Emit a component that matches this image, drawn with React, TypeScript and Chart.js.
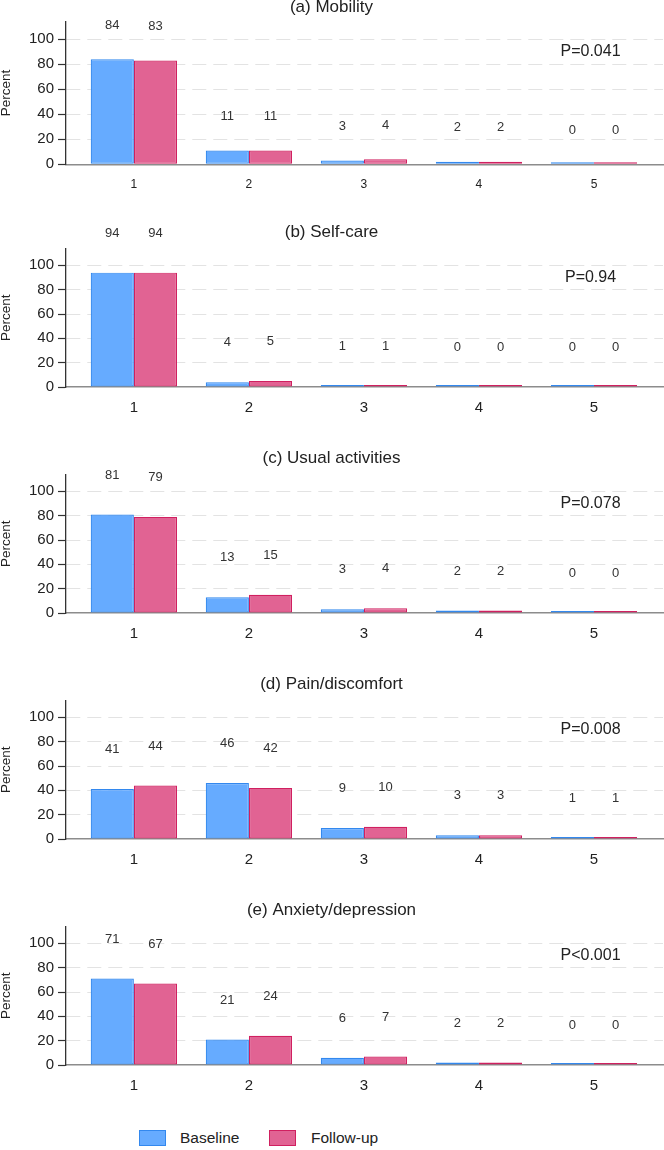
import React, { useEffect, useRef } from 'react';
import { Chart, registerables } from 'chart.js';

Chart.register(...registerables);

// ---------- data ----------
const categories = ['1', '2', '3', '4', '5'];
const seriesNames = ['Baseline', 'Follow-up'];
const panelTitles = [
  '(a) Mobility',
  '(b) Self-care',
  '(c) Usual activities',
  '(d) Pain/discomfort',
  '(e) Anxiety/depression',
];
const pLabels = ['P=0.041', 'P=0.94', 'P=0.078', 'P=0.008', 'P<0.001'];

const baselineMobility = [84, 11, 3, 2, 0];
const followupMobility = [83, 11, 4, 2, 0];
const baselineSelfCare = [94, 4, 1, 0, 0];
const followupSelfCare = [94, 5, 1, 0, 0];
const baselineUsual = [81, 13, 3, 2, 0];
const followupUsual = [79, 15, 4, 2, 0];
const baselinePain = [41, 46, 9, 3, 1];
const followupPain = [44, 42, 10, 3, 1];
const baselineAnxiety = [71, 21, 6, 2, 0];
const followupAnxiety = [67, 24, 7, 2, 0];

const baselineSeries = [baselineMobility, baselineSelfCare, baselineUsual, baselinePain, baselineAnxiety];
const followupSeries = [followupMobility, followupSelfCare, followupUsual, followupPain, followupAnxiety];

const yTicks = [0, 20, 40, 60, 80, 100];
const yTitle = 'Percent';

// ---------- styles ----------
const FONT = "'Liberation Sans', Arial, Helvetica, sans-serif";
const BLUE_FILL = 'rgb(102,171,255)';
const BLUE_LINE = 'rgb(51,136,238)';
const PINK_FILL = 'rgb(225,99,147)';
const PINK_LINE = 'rgb(208,32,96)';
const TEXT = '#222';

type PanelLayout = {
  height: number;
  titlePadTop: number;
  titlePadBottom: number;
  xAxisHeight: number;
  xTickSize: number;
  xTickPad: number;
  labelOffset: number;
};

const layouts: PanelLayout[] = [
  { height: 207, titlePadTop: -3.2, titlePadBottom: 4.5, xAxisHeight: 42.7, xTickSize: 12, xTickPad: 5.5, labelOffset: 34 },
  { height: 226, titlePadTop: 14.8, titlePadBottom: 6.1, xAxisHeight: 46, xTickSize: 15, xTickPad: 4, labelOffset: 39.5 },
  { height: 226, titlePadTop: 14.8, titlePadBottom: 6.1, xAxisHeight: 46, xTickSize: 15, xTickPad: 4, labelOffset: 39.5 },
  { height: 226, titlePadTop: 14.8, titlePadBottom: 6.1, xAxisHeight: 46, xTickSize: 15, xTickPad: 4, labelOffset: 39.5 },
  { height: 226, titlePadTop: 14.8, titlePadBottom: 6.1, xAxisHeight: 46, xTickSize: 15, xTickPad: 4, labelOffset: 39.5 },
];

const barLabelPlugin = {
  id: 'barLabels',
  afterDatasetsDraw(chart: any, _args: any, opts: any) {
    const ctx = chart.ctx;
    const yScale = chart.scales.y;
    ctx.save();
    ctx.font = `13px ${FONT}`;
    ctx.fillStyle = '#333';
    ctx.textAlign = 'center';
    ctx.textBaseline = 'middle';
    chart.data.datasets.forEach((ds: any, di: number) => {
      const meta = chart.getDatasetMeta(di);
      meta.data.forEach((el: any, i: number) => {
        const v = ds.data[i].y;
        const top = yScale.getPixelForValue(v);
        ctx.fillText(String(v), el.x, top - opts.offset);
      });
    });
    ctx.restore();
  },
};

const pTextPlugin = {
  id: 'pText',
  afterDatasetsDraw(chart: any, _args: any, opts: any) {
    const ctx = chart.ctx;
    const x = chart.scales.x.getPixelForValue(opts.x);
    const y = chart.scales.y.getPixelForValue(opts.y);
    ctx.save();
    ctx.font = `16px ${FONT}`;
    ctx.fillStyle = TEXT;
    ctx.textAlign = 'center';
    ctx.textBaseline = 'middle';
    ctx.fillText(opts.text, x, y);
    ctx.restore();
  },
};

function Panel({ index }: { index: number }) {
  const ref = useRef<HTMLCanvasElement | null>(null);
  const lay = layouts[index];

  useEffect(() => {
    if (!ref.current) return;
    const chart = new Chart(ref.current, {
      type: 'bar',
      data: {
        datasets: [
          {
            label: seriesNames[0],
            data: baselineSeries[index].map((v, i) => ({ x: i + 1, y: v })),
            backgroundColor: BLUE_FILL,
            borderColor: BLUE_LINE,
            borderWidth: 1.2,
            borderSkipped: false,
            minBarLength: 2,
            categoryPercentage: 0.75,
            barPercentage: 1,
          },
          {
            label: seriesNames[1],
            data: followupSeries[index].map((v, i) => ({ x: i + 1, y: v })),
            backgroundColor: PINK_FILL,
            borderColor: PINK_LINE,
            borderWidth: 1.2,
            borderSkipped: false,
            minBarLength: 2,
            categoryPercentage: 0.75,
            barPercentage: 1,
          },
        ],
      } as any,
      options: {
        animation: false,
        responsive: true,
        maintainAspectRatio: false,
        layout: { padding: { left: 0, right: 1, top: 0, bottom: 0 } },
        plugins: {
          legend: { display: false },
          tooltip: { enabled: false },
          title: {
            display: true,
            text: panelTitles[index],
            color: TEXT,
            font: { size: 17, weight: 'normal', family: FONT, lineHeight: 1.2 },
            padding: { top: lay.titlePadTop, bottom: lay.titlePadBottom },
          },
          barLabels: { offset: lay.labelOffset },
          pText: { text: pLabels[index], x: 4.97, y: 90 },
        } as any,
        scales: {
          x: {
            type: 'linear',
            min: 0.41,
            max: 5.6,
            offset: false,
            grid: { display: false, offset: false },
            border: { display: true, color: '#8c8c8c', width: 1.5 },
            ticks: {
              color: TEXT,
              font: { size: lay.xTickSize, family: FONT },
              padding: lay.xTickPad,
              callback: (v: any) => categories[Math.round(Number(v)) - 1] ?? '',
            },
            afterBuildTicks: (s: any) => {
              s.ticks = categories.map((_, i) => ({ value: i + 1 }));
            },
            afterFit: (s: any) => {
              s.height = lay.xAxisHeight;
            },
          },
          y: {
            min: 0,
            max: 114,
            grid: {
              color: (c: any) => (c.tick && c.tick.value === 0 ? 'rgba(0,0,0,0)' : '#e3e3e3'),
              lineWidth: 1,
              tickColor: '#333',
              tickLength: 8,
              tickWidth: 1.2,
            },
            border: { display: true, color: '#333', width: 1.3, dash: [14, 7] },
            ticks: {
              color: TEXT,
              font: { size: 15, family: FONT },
              padding: 4,
            },
            afterBuildTicks: (s: any) => {
              s.ticks = yTicks.map((v) => ({ value: v }));
            },
            title: {
              display: true,
              text: yTitle,
              color: TEXT,
              font: { size: 13.5, family: FONT, lineHeight: 1 },
              padding: { top: 0, bottom: 0 },
            },
            afterFit: (s: any) => {
              s.width = 66;
            },
          },
        },
      } as any,
      plugins: [barLabelPlugin, pTextPlugin] as any,
    });
    return () => chart.destroy();
  }, [index]);

  return (
    <div style={{ position: 'relative', width: 664, height: lay.height }}>
      <canvas ref={ref} />
    </div>
  );
}

function LegendItem({ left, textLeft, fill, line, label }: any) {
  return (
    <>
      <div
        style={{
          position: 'absolute',
          left,
          top: 1130,
          width: 27,
          height: 16,
          boxSizing: 'border-box',
          background: fill,
          border: `1.5px solid ${line}`,
        }}
      />
      <div
        style={{
          position: 'absolute',
          left: textLeft,
          top: 1128,
          height: 20,
          lineHeight: '20px',
          fontSize: 15.5,
          fontFamily: FONT,
          color: TEXT,
          whiteSpace: 'nowrap',
        }}
      >
        {label}
      </div>
    </>
  );
}

export default function App() {
  useEffect(() => {
    document.body.style.margin = '0';
  }, []);
  return (
    <div style={{ position: 'absolute', top: 0, left: 0, width: 664, height: 1150, background: '#fff', overflow: 'hidden' }}>
      {panelTitles.map((_, i) => (
        <Panel key={i} index={i} />
      ))}
      <LegendItem left={139} textLeft={180} fill={BLUE_FILL} line={BLUE_LINE} label={seriesNames[0]} />
      <LegendItem left={269} textLeft={311} fill={PINK_FILL} line={PINK_LINE} label={seriesNames[1]} />
    </div>
  );
}
